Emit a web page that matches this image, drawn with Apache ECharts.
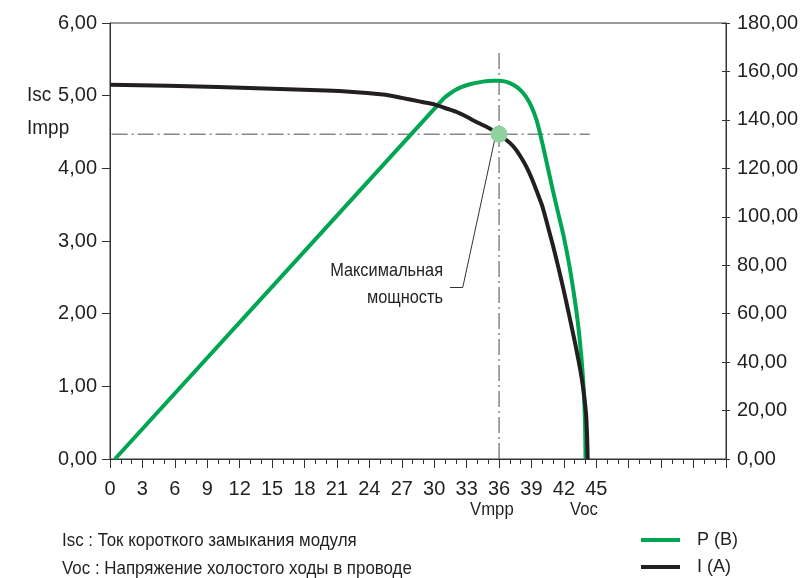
<!DOCTYPE html>
<html>
<head>
<meta charset="utf-8">
<script src="https://cdn.jsdelivr.net/npm/echarts@6/dist/echarts.min.js"></script>
<style>
  html, body { margin: 0; padding: 0; background: #fff; }
  #chart { width: 805px; height: 578px; }
</style>
</head>
<body>
<div id="chart"></div>
<script>
// I-V curve of a PV module: current (left axis) and power (right axis) vs voltage
const iVoltage = [0, 10, 20, 22.5, 25, 26, 27, 28, 29, 30, 31, 32, 33, 34, 35, 36, 36.5, 37, 37.5, 38, 38.5, 39, 39.5, 40, 40.5, 41, 41.5, 42, 42.5, 43, 43.5, 43.8, 44.05, 44.15, 44.2];
const iCurrent = [5.15, 5.12, 5.07, 5.05, 5.02, 5.00, 4.97, 4.94, 4.91, 4.88, 4.83, 4.78, 4.71, 4.63, 4.56, 4.47, 4.41, 4.35, 4.27, 4.16, 4.03, 3.87, 3.68, 3.48, 3.21, 2.93, 2.63, 2.31, 1.97, 1.62, 1.24, 0.96, 0.62, 0.30, 0];

const pVoltage = [0.46, 30.3, 30.5, 31, 31.5, 32, 32.5, 33, 33.5, 34, 34.5, 35, 35.5, 36, 36.5, 37, 37.5, 38, 38.5, 39, 39.5, 40, 40.5, 41, 41.5, 42, 42.5, 43, 43.3, 43.6, 43.8, 43.95, 44.0];
const pPower = [0, 146, 147, 149.3, 151, 152.4, 153.5, 154.3, 154.9, 155.4, 155.8, 156.1, 156.2, 156.2, 155.9, 155.2, 154, 152.2, 149.5, 145.5, 139.5, 130.5, 120.5, 110.5, 101, 91.5, 80, 66, 56, 43, 31, 16, 0];

// maximum power point
const mppVoltage = 36;
const mppCurrent = 4.47;

// axis ranges
const xMin = 0, xMax = 57, xStep = 3, xLastLabel = 45;
const iMin = 0, iMax = 6, iStep = 1;
const pMin = 0, pMax = 180, pStep = 20;

const narrow = '"Liberation Sans Narrow", "Arial Narrow", "Liberation Sans", sans-serif';
const regular = '"Liberation Sans", Arial, sans-serif';
const ink = '#231f20';

const comma = v => v.toFixed(2).replace('.', ',');
const zip = (a, b) => a.map((v, i) => [v, b[i]]);

// condensed caption text, anchored at (x, y)
function caption(text, x, y, size, squeeze, align) {
  return {
    type: 'text', x: x, y: y, scaleX: squeeze, silent: true,
    style: { text: text, font: size + 'px ' + narrow, fill: ink, align: align || 'left', verticalAlign: 'middle' }
  };
}

const chart = echarts.init(document.getElementById('chart'), null, { renderer: 'canvas' });

const dashDot = { color: '#4a4a4a', width: 1, type: [16, 4, 2, 4] };

chart.setOption({
  animation: false,
  backgroundColor: '#fff',
  grid: { left: 110, right: 79, top: 23, bottom: 119, show: true, borderColor: '#333', borderWidth: 1 },
  legend: {
    data: ['P (B)', 'I (A)'],
    orient: 'vertical',
    left: 641, top: 530,
    padding: 0,
    icon: 'rect',
    itemWidth: 39, itemHeight: 4,
    itemGap: 7,
    textStyle: { fontFamily: narrow, fontSize: 18, color: ink, lineHeight: 20, padding: [0, 0, 0, 12] }
  },
  xAxis: {
    type: 'value', min: xMin, max: xMax, interval: xStep,
    axisLine: { lineStyle: { color: '#333', width: 1 } },
    axisTick: { show: true, length: 9, lineStyle: { color: '#333' } },
    minorTick: { show: true, splitNumber: 3, length: 5, lineStyle: { color: '#333' } },
    splitLine: { show: false },
    axisLabel: {
      margin: 20, fontFamily: regular, fontSize: 20, color: ink,
      formatter: v => (v <= xLastLabel ? String(v) : '')
    }
  },
  yAxis: [
    {
      type: 'value', position: 'left', min: iMin, max: iMax, interval: iStep,
      axisLine: { show: true, lineStyle: { color: '#333' } },
      axisTick: { show: true, length: 8, lineStyle: { color: '#333' } },
      splitLine: { show: false },
      axisLabel: { margin: 13, fontFamily: regular, fontSize: 20, color: ink, formatter: comma }
    },
    {
      type: 'value', position: 'right', min: pMin, max: pMax, interval: pStep,
      axisLine: { show: true, lineStyle: { color: '#333' } },
      axisTick: { show: true, length: 4, lineStyle: { color: '#333' } },
      splitLine: { show: false },
      axisLabel: { margin: 11, fontFamily: regular, fontSize: 20, color: ink, formatter: comma }
    },
    {
      // inner half of the crossing ticks on the power axis
      type: 'value', position: 'right', min: pMin, max: pMax, interval: pStep,
      axisLine: { show: false },
      axisTick: { show: true, inside: true, length: 4, lineStyle: { color: '#333' } },
      splitLine: { show: false },
      axisLabel: { show: false }
    }
  ],
  series: [
    {
      name: 'mpp-h', type: 'line', yAxisIndex: 0, silent: true, symbol: 'none',
      data: [[0.15, mppCurrent], [44.4, mppCurrent]], lineStyle: dashDot, z: 1
    },
    {
      name: 'mpp-v', type: 'line', yAxisIndex: 0, silent: true, symbol: 'none',
      data: [[mppVoltage, 0], [mppVoltage, 5.63]], lineStyle: dashDot, z: 1
    },
    {
      name: 'leader', type: 'line', yAxisIndex: 0, silent: true, symbol: 'none',
      data: [[31.46, 2.36], [32.64, 2.36], [35.62, 4.41]],
      lineStyle: { color: '#333', width: 1 }, z: 2
    },
    {
      name: 'P (B)', type: 'line', yAxisIndex: 1, symbol: 'none',
      smooth: 0.25,
      data: zip(pVoltage, pPower),
      itemStyle: { color: '#00a651' },
      lineStyle: { color: '#00a651', width: 4, join: 'round' }, z: 3
    },
    {
      name: 'I (A)', type: 'line', yAxisIndex: 0, symbol: 'none',
      smooth: 0.25,
      data: zip(iVoltage, iCurrent),
      itemStyle: { color: ink },
      lineStyle: { color: ink, width: 4, join: 'round' }, z: 4
    },
    {
      name: 'mpp', type: 'scatter', yAxisIndex: 0, silent: true,
      data: [[mppVoltage, mppCurrent]],
      symbolSize: 17, itemStyle: { color: '#8fd19f', opacity: 1 }, z: 5
    }
  ],
  graphic: [
    caption('Isc', 27, 95, 20, 0.95),
    caption('Impp', 27, 128, 20, 0.95),
    caption('Максимальная', 443, 271, 19, 0.86, 'right'),
    caption('мощность', 443, 298, 19, 0.86, 'right'),
    caption('Vmpp', 470, 510, 19, 0.88),
    caption('Voc', 570, 510, 19, 0.88),
    caption('Isc : Ток короткого замыкания модуля', 62, 541, 19, 0.89),
    caption('Voc : Напряжение холостого ходы в проводе', 62, 569, 19, 0.89)
  ]
});
</script>
</body>
</html>
